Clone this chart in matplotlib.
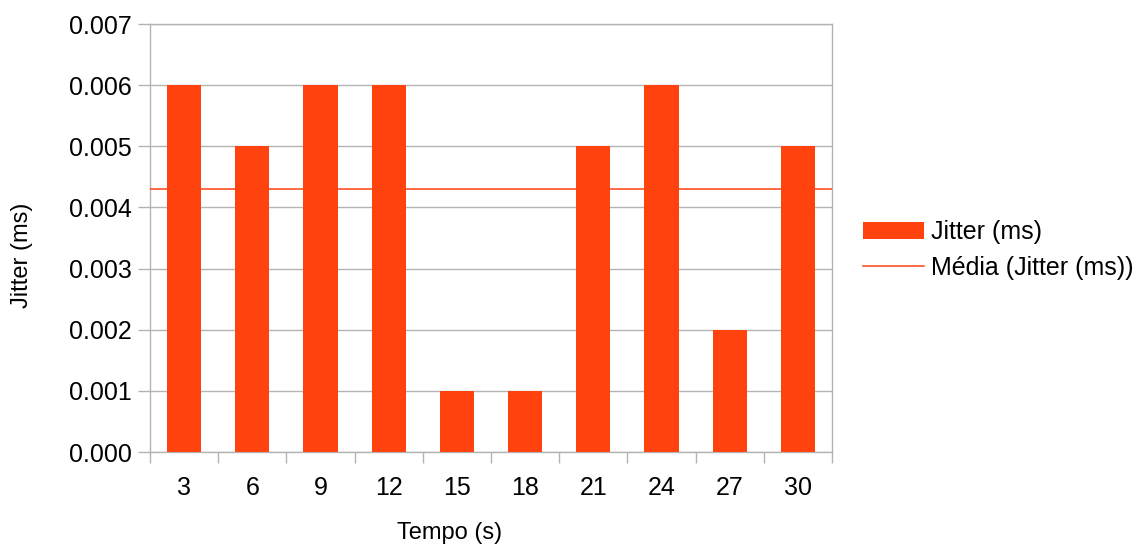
import numpy as np
import matplotlib
matplotlib.use("Agg")
import matplotlib.pyplot as plt

# dados
tempo = ["3", "6", "9", "12", "15", "18", "21", "24", "27", "30"]
jitter = [0.006, 0.005, 0.006, 0.006, 0.001, 0.001, 0.005, 0.006, 0.002, 0.005]
media = np.mean(jitter)

COR = "#FF420E"
CINZA = "#b3b3b3"

plt.rcParams["font.family"] = ["Liberation Sans", "DejaVu Sans"]
plt.rcParams["font.size"] = 18

fig = plt.figure(figsize=(11.44, 5.47), dpi=100)
ax = fig.add_axes([150/1144, 1 - 452/547, 682/1144, 428/547])

x = np.arange(len(tempo))
barras = ax.bar(x, jitter, width=0.5, color=COR, label="Jitter (ms)", zorder=3)
linha = ax.axhline(media, color=COR, lw=1.1, label="Média (Jitter (ms))", zorder=4)

ax.set_xlim(-0.5, len(tempo) - 0.5)
ax.set_ylim(0, 0.007)
yt = np.arange(0, 0.0071, 0.001)
ax.set_yticks(yt)
ax.set_yticklabels([f"{v:.3f}" for v in yt])
ax.set_xticks(x)
ax.set_xticklabels(tempo)
ax.set_xticks(np.arange(-0.5, len(tempo), 1), minor=True)
ax.tick_params(axis="x", which="major", length=0, pad=17)
ax.tick_params(axis="x", which="minor", length=8, width=1, color=CINZA)
ax.tick_params(axis="y", length=9, width=1, color=CINZA, pad=4)
ax.grid(axis="y", color=CINZA, lw=1, zorder=0)
for s in ax.spines.values():
    s.set_color(CINZA)
    s.set_linewidth(1)

fig.text(22/1144, 1 - 255/547, "Jitter (ms)", rotation=90, ha="center", va="center", fontsize=17)
fig.text(450/1144, 1 - 533/547, "Tempo (s)", ha="center", va="center", fontsize=17)

fig.legend([barras, linha], ["Jitter (ms)", "Média (Jitter (ms))"],
           loc="center left", bbox_to_anchor=(863/1144, 1 - 250/547),
           bbox_transform=fig.transFigure, frameon=False, borderpad=0, borderaxespad=0,
           handlelength=2.44, handleheight=0.7, handletextpad=0.28, labelspacing=0.45)

fig.savefig("out.png", dpi=100)
